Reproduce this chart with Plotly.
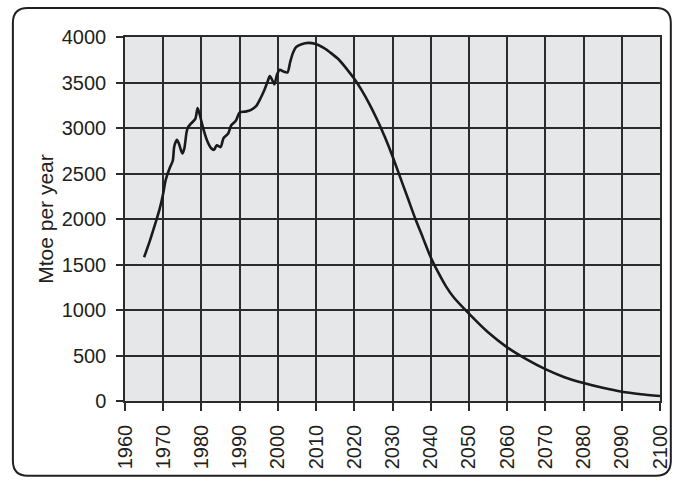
import plotly.graph_objects as go

# Oil production (Mtoe per year): history and projection
years = [1965.0, 1966.5, 1968.0, 1969.0, 1970.0, 1970.6, 1971.7, 1972.5, 1972.9, 1973.6,
         1974.1, 1975.0, 1975.5, 1976.1, 1976.5, 1977.3, 1978.4, 1979.0, 1979.6, 1980.5,
         1981.5, 1982.5, 1983.3, 1984.0, 1985.0, 1985.8, 1987.0, 1987.8, 1989.0, 1990.0,
         1991.5, 1993.0, 1994.3, 1995.5, 1996.5, 1997.4, 1997.9, 1998.5, 1999.1, 1999.8,
         2000.5, 2001.5, 2002.5, 2003.2, 2003.9, 2004.8, 2006.2, 2008.0, 2009.7,
         2012.0, 2014.0, 2016.0, 2018.0, 2020.0, 2022.0, 2024.0, 2026.0, 2028.0, 2030.0,
         2032.0, 2034.0, 2036.0, 2038.0, 2040.0, 2042.0, 2044.0, 2046.0, 2050.0, 2055.0,
         2060.0, 2065.0, 2070.0, 2075.0, 2080.0, 2085.0, 2090.0, 2095.0, 2100.0]
mtoe = [1580, 1760, 1960, 2100, 2280, 2420, 2560, 2640, 2800, 2870,
        2830, 2720, 2770, 2950, 3010, 3050, 3100, 3220, 3140, 2990,
        2860, 2780, 2760, 2810, 2790, 2890, 2940, 3030, 3080, 3170,
        3180, 3200, 3240, 3330, 3420, 3520, 3570, 3530, 3480, 3590,
        3640, 3620, 3610, 3720, 3820, 3890, 3920, 3935, 3925,
        3880, 3820, 3750, 3650, 3540, 3410, 3260, 3090, 2900, 2690,
        2460, 2230, 2000, 1790, 1580, 1410, 1260, 1140, 960, 755,
        590, 460, 350, 262, 197, 145, 102, 75, 55]

x_ticks = list(range(1960, 2101, 10))
y_ticks = list(range(0, 4001, 500))
y_title = "Mtoe per year"

fig = go.Figure()
fig.add_trace(go.Scatter(
    x=years, y=mtoe, mode="lines",
    line=dict(color="#1a1a1a", width=2.6, shape="spline", smoothing=0.7),
    hoverinfo="skip", showlegend=False,
))

font = dict(family="Liberation Sans, Arial, sans-serif", size=20, color="#231f20")
grid = "#2b2b2b"

fig.update_xaxes(
    range=[1960, 2100], tickmode="array", tickvals=x_ticks,
    ticktext=[str(t) for t in x_ticks], tickangle=-90,
    showgrid=True, gridcolor=grid, gridwidth=1.5,
    showline=True, linecolor=grid, linewidth=1.5, mirror=True,
    ticks="outside", ticklen=8, tickwidth=1.5, tickcolor=grid,
    ticklabelstandoff=6, tickfont=font, zeroline=False,
)
fig.update_yaxes(
    range=[0, 4000], tickmode="array", tickvals=y_ticks,
    ticktext=[str(t) for t in y_ticks],
    showgrid=True, gridcolor=grid, gridwidth=1.5,
    showline=True, linecolor=grid, linewidth=1.5, mirror=True,
    ticks="outside", ticklen=7, tickwidth=1.5, tickcolor=grid,
    ticklabelstandoff=6, tickfont=font, zeroline=False,
    title=dict(text=y_title, font=dict(family=font["family"], size=21, color="#231f20"), standoff=2),
)

FW, FH = 683, 481
L, R, T, B = 125, 669, 37, 402          # plot area in pixels
W, H = R - L, B - T
def px(x): return (x - L) / W
def py(y): return (B - y) / H
x0, x1, y0, y1, r = 11, 680, 8, 477, 15
path = (f"M {px(x0 + r)} {py(y0)} L {px(x1 - r)} {py(y0)} "
        f"Q {px(x1)} {py(y0)} {px(x1)} {py(y0 + r)} "
        f"L {px(x1)} {py(y1 - r)} Q {px(x1)} {py(y1)} {px(x1 - r)} {py(y1)} "
        f"L {px(x0 + r)} {py(y1)} Q {px(x0)} {py(y1)} {px(x0)} {py(y1 - r)} "
        f"L {px(x0)} {py(y0 + r)} Q {px(x0)} {py(y0)} {px(x0 + r)} {py(y0)} Z")
fig.add_shape(type="path", xref="paper", yref="paper", path=path,
              line=dict(color="#231f20", width=2), fillcolor="rgba(0,0,0,0)", layer="above")

fig.update_layout(
    width=FW, height=FH,
    margin=dict(l=L, r=FW - R, t=T, b=FH - B),
    paper_bgcolor="white", plot_bgcolor="#e6e7e8",
    font=font,
)

fig.write_html("out.html", config={"displayModeBar": False},
               post_script="document.body.style.margin='0';document.body.style.overflow='hidden';")
